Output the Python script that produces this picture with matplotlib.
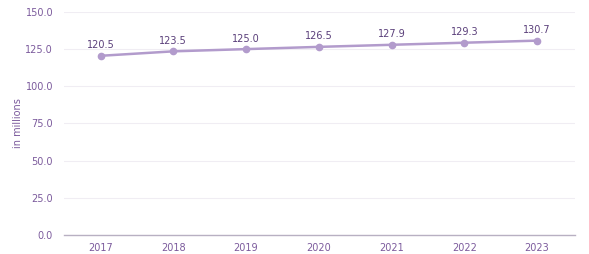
import matplotlib
matplotlib.use("Agg")
import matplotlib.pyplot as plt

years = [2017, 2018, 2019, 2020, 2021, 2022, 2023]
values = [120.5, 123.5, 125.0, 126.5, 127.9, 129.3, 130.7]
yticks = [0, 25, 50, 75, 100, 125, 150]

line_col = "#b29bcc"
text_col = "#7b5a9c"

fig = plt.figure(figsize=(5.89, 2.54), dpi=100)
ax = fig.add_axes([0.109, 0.075, 0.867, 0.878])

ax.plot(years, values, color=line_col, lw=1.8, marker="o", ms=4.5, zorder=3)
for x, v in zip(years, values):
    ax.annotate("%.1f" % v, (x, v), xytext=(0, 4), textcoords="offset points",
                ha="center", va="bottom", fontsize=7, color="#5a3f7a")

ax.set_xlim(2016.5, 2023.52)
ax.set_ylim(0, 150)
ax.set_xticks(years)
ax.set_yticks(yticks)
ax.set_yticklabels(["%.1f" % t for t in yticks])
ax.tick_params(axis="both", length=0, labelsize=7, labelcolor=text_col)
ax.tick_params(axis="x", pad=6)
ax.tick_params(axis="y", pad=8)
ax.grid(axis="y", color="#f0edf3", lw=0.8)
ax.set_axisbelow(True)
for s in ["top", "right", "left"]:
    ax.spines[s].set_visible(False)
ax.spines["bottom"].set_color("#b8b0c2")
ax.spines["bottom"].set_linewidth(1)
ax.set_ylabel("in millions", fontsize=7, color=text_col, labelpad=2)

fig.savefig("out.png", dpi=100)
